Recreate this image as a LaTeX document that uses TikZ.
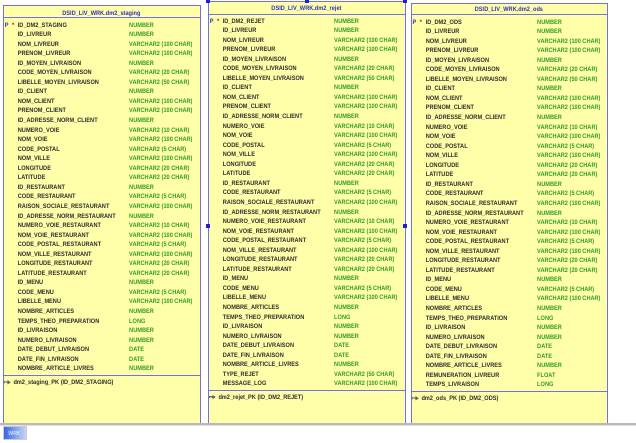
\documentclass[tikz,border=0pt]{standalone}
\usepackage{fontspec}
\setmainfont{Liberation Sans}[FakeStretch=0.88]
\definecolor{tblfill}{RGB}{255,255,170}
\definecolor{tblborder}{RGB}{112,112,232}
\definecolor{titleblue}{RGB}{48,48,200}
\definecolor{namecol}{RGB}{45,45,45}
\definecolor{typecol}{RGB}{50,155,40}
\definecolor{handleblue}{RGB}{30,30,220}
\newcommand\tfont{\fontsize{6.4}{7}\selectfont\bfseries}
\tikzset{
 tbl/.style={draw=tblborder, fill=tblfill, line width=0.9pt},
 tblline/.style={draw=tblborder, line width=0.9pt},
 txt/.style={anchor=west, inner sep=0pt, text height=4.6pt, text depth=0pt, font=\tfont},
 cn/.style={txt, text=namecol},
 ct/.style={txt, text=typecol},
 pkp/.style={txt, text=titleblue},
 pkstar/.style={txt, text=red!85!black},
 tbltitle/.style={anchor=base, inner sep=0pt, font=\tfont, text=titleblue},
 handle/.style={fill=handleblue, minimum size=4pt, inner sep=0pt, draw=none},
}
\newcommand\dbrow[5]{\node[cn] (#1n) at ({#2+14.7},{#3}) {#4};\node[ct] (#1t) at ({#2+126},{#3}) {#5};}
\newcommand\keyicon[3]{%
 \begin{scope}[shift={(#2,#3)}]
 \fill[gray!80!black] (0,-0.9) -- (3.6,-0.9) -- (3.6,-2.2) -- (6.6,0) -- (3.6,2.2) -- (3.6,0.9) -- (0,0.9) -- cycle;
 \fill[gray!40] (0.6,-0.3) rectangle (3.2,0.3);
 \coordinate (#1) at (0,0);
 \end{scope}}
\newcommand\commonrows{ID\_LIVREUR/NUMBER,
NOM\_LIVREUR/VARCHAR2 (100 CHAR),
PRENOM\_LIVREUR/VARCHAR2 (100 CHAR),
ID\_MOYEN\_LIVRAISON/NUMBER,
CODE\_MOYEN\_LIVRAISON/VARCHAR2 (20 CHAR),
LIBELLE\_MOYEN\_LIVRAISON/VARCHAR2 (50 CHAR),
ID\_CLIENT/NUMBER,
NOM\_CLIENT/VARCHAR2 (100 CHAR),
PRENOM\_CLIENT/VARCHAR2 (100 CHAR),
ID\_ADRESSE\_NORM\_CLIENT/NUMBER,
NUMERO\_VOIE/VARCHAR2 (10 CHAR),
NOM\_VOIE/VARCHAR2 (100 CHAR),
CODE\_POSTAL/VARCHAR2 (5 CHAR),
NOM\_VILLE/VARCHAR2 (100 CHAR),
LONGITUDE/VARCHAR2 (20 CHAR),
LATITUDE/VARCHAR2 (20 CHAR),
ID\_RESTAURANT/NUMBER,
CODE\_RESTAURANT/VARCHAR2 (5 CHAR),
RAISON\_SOCIALE\_RESTAURANT/VARCHAR2 (100 CHAR),
ID\_ADRESSE\_NORM\_RESTAURANT/NUMBER,
NUMERO\_VOIE\_RESTAURANT/VARCHAR2 (10 CHAR),
NOM\_VOIE\_RESTAURANT/VARCHAR2 (100 CHAR),
CODE\_POSTAL\_RESTAURANT/VARCHAR2 (5 CHAR),
NOM\_VILLE\_RESTAURANT/VARCHAR2 (100 CHAR),
LONGITUDE\_RESTAURANT/VARCHAR2 (20 CHAR),
LATITUDE\_RESTAURANT/VARCHAR2 (20 CHAR),
ID\_MENU/NUMBER,
CODE\_MENU/VARCHAR2 (5 CHAR),
LIBELLE\_MENU/VARCHAR2 (100 CHAR),
NOMBRE\_ARTICLES/NUMBER,
TEMPS\_THEO\_PREPARATION/LONG,
ID\_LIVRAISON/NUMBER,
NUMERO\_LIVRAISON/NUMBER,
DATE\_DEBUT\_LIVRAISON/DATE,
DATE\_FIN\_LIVRAISON/DATE,
NOMBRE\_ARTICLE\_LIVRES/NUMBER}
\begin{document}
\begin{tikzpicture}[x=1pt,y=-1pt]
\useasboundingbox (0,0) rectangle (636,442);
\fill[white] (0,0) rectangle (636,442);
% ---------- staging ----------
\path[tbl] (3,5) rectangle (200,430);
\draw[tblline] (3,17.3) -- (200,17.3);
\node[tbltitle] (stitle) at (101.5,15) {DSID\_LIV\_WRK.dm2\_staging};
\node[pkp] (sP) at (4.7,24.7) {P};
\node[pkstar] (sS) at (12,24.7) {*};
\dbrow{s1}{3}{24.7}{ID\_DM2\_STAGING}{NUMBER}
\foreach \n/\t [count=\i from 2] in \commonrows {\dbrow{s\i}{3}{24.7+(\i-1)*9.55}{\n}{\t}}
\draw[tblline] (3,375.7) -- (200,375.7);
\keyicon{skey}{4}{382.3}
\node[cn] (spk) at (13.3,382.3) {dm2\_staging\_PK (ID\_DM2\_STAGING)};
% ---------- rejet ----------
\path[tbl] (208,1) rectangle (405,430);
\draw[tblline] (208,14) -- (405,14);
\node[tbltitle] (rtitle) at (306.5,10.3) {DSID\_LIV\_WRK.dm2\_rejet};
\node[pkp] (rP) at (209.7,20.7) {P};
\node[pkstar] (rS) at (217,20.7) {*};
\dbrow{r1}{208}{20.7}{ID\_DM2\_REJET}{NUMBER}
\foreach \n/\t [count=\i from 2] in \commonrows {\dbrow{r\i}{208}{20.7+(\i-1)*9.55}{\n}{\t}}
\dbrow{r38}{208}{20.7+37*9.55}{TYPE\_REJET}{VARCHAR2 (50 CHAR)}
\dbrow{r39}{208}{20.7+38*9.55}{MESSAGE\_LOG}{VARCHAR2 (100 CHAR)}
\draw[tblline] (208,390.3) -- (405,390.3);
\keyicon{rkey}{209}{397}
\node[cn] (rpk) at (218.3,397) {dm2\_rejet\_PK (ID\_DM2\_REJET)};
% ---------- ods ----------
\path[tbl] (411,3) rectangle (607,430);
\draw[tblline] (411,14.5) -- (607,14.5);
\node[tbltitle] (otitle) at (509,11.3) {DSID\_LIV\_WRK.dm2\_ods};
\node[pkp] (oP) at (412.3,21.7) {P};
\node[pkstar] (oS) at (419.7,21.7) {*};
\dbrow{o1}{411}{21.7}{ID\_DM2\_ODS}{NUMBER}
\foreach \n/\t [count=\i from 2] in \commonrows {\dbrow{o\i}{411}{21.7+(\i-1)*9.55}{\n}{\t}}
\dbrow{o38}{411}{21.7+37*9.55}{REMUNERATION\_LIVREUR}{FLOAT}
\dbrow{o39}{411}{21.7+38*9.55}{TEMPS\_LIVRAISON}{LONG}
\draw[tblline] (411,391) -- (607,391);
\keyicon{okey}{412}{398.3}
\node[cn] (opk) at (421.3,398.3) {dm2\_ods\_PK (ID\_DM2\_ODS)};
% ---------- bottom band and tab ----------
\fill[white] (0,423) rectangle (636,442);
\fill[gray!55] (0,423) rectangle (636,424.6);
\fill[gray!25] (0,424.6) rectangle (636,426.2);
\shade[left color={rgb,255:red,50;green,100;blue,230}, right color={rgb,255:red,200;green,215;blue,250}] (3,426.5) rectangle (26,439.5);
\draw[gray!40, line width=0.6pt] (3,426.5) rectangle (26,439.5);
\node[inner sep=0pt, font=\fontsize{6}{7}\selectfont, text=white] (tab) at (14.5,433) {WRK};
% ---------- selection handles ----------
\node[handle] (h1) at (208,1) {};
\node[handle] (h2) at (306.5,1) {};
\node[handle] (h3) at (405,1) {};
\node[handle] (h4) at (208,226) {};
\node[handle] (h5) at (405,226) {};
\end{tikzpicture}
\end{document}
